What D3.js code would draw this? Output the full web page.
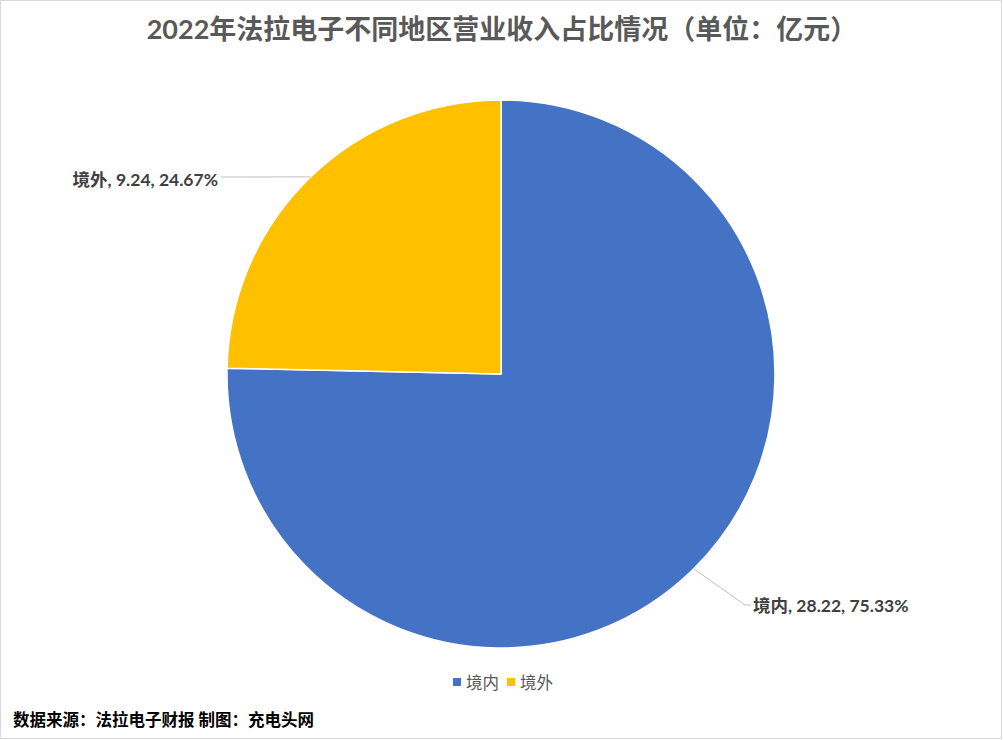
<!DOCTYPE html>
<html><head><meta charset="utf-8">
<script src="https://cdn.jsdelivr.net/npm/d3@7"></script>
<style>html,body{margin:0;padding:0;background:#fff;}</style>
</head><body>
<svg id="c" width="1003" height="740"></svg>
<script>
const categories = ["境内", "境外"];
const values = [28.22, 9.24];
const percents = ["75.33%", "24.67%"];
const colors = ["#4472C4", "#FFC000"];
const titleText = "2022年法拉电子不同地区营业收入占比情况（单位：亿元）";
const sourceText = "数据来源：法拉电子财报 制图：充电头网";

const W = 1003, H = 740;
const svg = d3.select("#c");
const font = "Lato, 'Noto Sans CJK SC', sans-serif";

svg.append("rect").attr("x", 0.5).attr("y", 0.5).attr("width", W - 2).attr("height", H - 2)
  .attr("fill", "#fff").attr("stroke", "#d9d9d9").attr("stroke-width", 1);

svg.append("text").attr("x", 502).attr("y", 39).attr("text-anchor", "middle")
  .attr("font-family", font).attr("font-size", 27).attr("font-weight", "bold")
  .attr("fill", "#595959").text(titleText);

const cx = 501, cy = 374, r = 274;
const pie = d3.pie().sort(null).value(d => d)(values);
const arc = d3.arc().innerRadius(0).outerRadius(r);
const g = svg.append("g").attr("transform", `translate(${cx},${cy})`);
g.selectAll("path").data(pie).join("path")
  .attr("d", arc).attr("fill", (d, i) => colors[i])
  .attr("stroke", "#fff").attr("stroke-width", 1.5);

// labels with leader lines (leader angle in degrees, clockwise from top)
const labelSpecs = [
  { i: 0, anchor: "start", deg: 135.3, bend: [745, 605], end: [751, 605], tx: 753, ty: 612 },
  { i: 1, anchor: "end", deg: 316.0, bend: [221, 177], end: [221, 177], tx: 218, ty: 186 }
];
labelSpecs.forEach(s => {
  const a = s.deg * Math.PI / 180;
  const px = cx + r * Math.sin(a), py = cy - r * Math.cos(a);
  svg.append("polyline")
    .attr("points", [[px, py], s.bend, s.end].map(p => p.join(",")).join(" "))
    .attr("fill", "none").attr("stroke", "#bfbfbf").attr("stroke-width", 1);
  svg.append("text").attr("x", s.tx).attr("y", s.ty).attr("text-anchor", s.anchor)
    .attr("font-family", font).attr("font-size", 17.5).attr("font-weight", "bold")
    .attr("fill", "#404040")
    .text(`${categories[s.i]}, ${values[s.i].toFixed(2)}, ${percents[s.i]}`);
});

// legend
const lg = svg.append("g");
const legendX = [453, 507];
categories.forEach((c, i) => {
  lg.append("rect").attr("x", legendX[i]).attr("y", 678).attr("width", 8).attr("height", 8).attr("fill", colors[i]);
  lg.append("text").attr("x", legendX[i] + 13).attr("y", 689).attr("font-family", font)
    .attr("font-size", 16.5).attr("fill", "#595959").text(c);
});

svg.append("text").attr("x", 13).attr("y", 726).attr("font-family", font)
  .attr("font-size", 16.5).attr("font-weight", "bold").attr("fill", "#000").text(sourceText);
</script>
</body></html>
